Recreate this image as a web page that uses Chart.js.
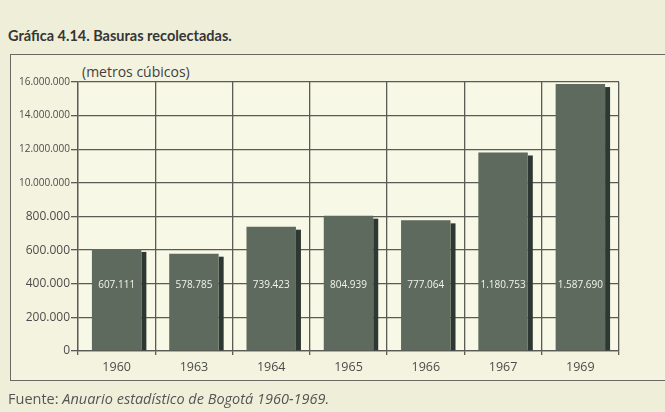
<!DOCTYPE html>
<html lang="es">
<head>
<meta charset="utf-8">
<title>Basuras recolectadas</title>
<script src="https://cdn.jsdelivr.net/npm/chart.js@4.4.1/dist/chart.umd.min.js"></script>
<style>
  html, body {
    margin: 0;
    padding: 0;
    width: 665px;
    height: 412px;
    overflow: hidden;
    background: #efefd9;
  }
  #wrap { position: relative; width: 665px; height: 412px; }
  #titulo {
    position: absolute; left: 8px; top: 27px;
    font: bold 14.5px Lato, "Open Sans", sans-serif;
    color: #363636;
    white-space: nowrap;
  }
  #marco {
    position: absolute; left: 10px; top: 54px;
    width: 680px; height: 325px;
    border: 1.5px solid #6a6a64;
    background: #f3f3e0;
  }
  #unidad {
    position: absolute; left: 82px; top: 62px;
    font: 14px "Open Sans", sans-serif;
    color: #3f3f3f;
    white-space: nowrap;
  }
  #fuente {
    position: absolute; left: 8px; top: 389px;
    font: 14.5px "Open Sans", sans-serif;
    color: #555;
    white-space: nowrap;
  }
  canvas { position: absolute; left: 0; top: 0; }
</style>
</head>
<body>
<div id="wrap">
  <div id="titulo">Gráfica 4.14. Basuras recolectadas.</div>
  <div id="marco"></div>
  <div id="unidad">(metros cúbicos)</div>
  <canvas id="basurasChart" width="665" height="412"></canvas>
  <div id="fuente">Fuente: <i>Anuario estadístico de Bogotá 1960-1969.</i></div>
</div>

<script>
// Años y metros cúbicos recolectados
const years = ["1960", "1963", "1964", "1965", "1966", "1967", "1969"];
const volumes = [607111, 578785, 739423, 804939, 777064, 1180753, 1587690];

// Rótulos del eje vertical tal como van impresos
const yTickLabels = ["0", "200.000", "400.000", "600.000", "800.000",
  "10.000.000", "12.000.000", "14.000.000", "16.000.000"];

const barColor = "#5d6a5d";
const shadowColor = "#2e3832";
const gridColor = "#5a5a56";

const chartCanvas = document.getElementById("basurasChart");

const formatMiles = (v) => String(v).replace(/\B(?=(\d{3})+(?!\d))/g, ".");

// Fondo claro del área de trazado
const plotBackground = {
  id: "plotBackground",
  beforeDraw(chart) {
    const { ctx, chartArea: a } = chart;
    ctx.save();
    ctx.fillStyle = "#f8f8e7";
    ctx.fillRect(a.left, a.top, a.right - a.left, a.bottom - a.top);
    ctx.restore();
  },
};

// Sombra oscura a la derecha de cada barra
const barShadow = {
  id: "barShadow",
  beforeDatasetsDraw(chart) {
    const { ctx } = chart;
    const meta = chart.getDatasetMeta(0);
    ctx.save();
    ctx.fillStyle = shadowColor;
    meta.data.forEach((bar) => {
      const right = bar.x + bar.width / 2;
      ctx.fillRect(right, bar.y + 3, 5, bar.base - bar.y - 3);
    });
    ctx.restore();
  },
};

// Valor de cada barra en blanco, a la altura de la línea de 400.000
const valueLabels = {
  id: "valueLabels",
  afterDatasetsDraw(chart) {
    const { ctx } = chart;
    const meta = chart.getDatasetMeta(0);
    const y = chart.scales.y.getPixelForValue(400000) + 1;
    ctx.save();
    ctx.fillStyle = "#f4f4ec";
    ctx.font = "10px 'Open Sans', sans-serif";
    ctx.textAlign = "center";
    ctx.textBaseline = "middle";
    meta.data.forEach((bar, i) => {
      ctx.fillText(formatMiles(volumes[i]), bar.x, y);
    });
    ctx.restore();
  },
};

new Chart(chartCanvas, {
  type: "bar",
  data: {
    labels: years,
    datasets: [
      {
        label: "Metros cúbicos",
        data: volumes,
        backgroundColor: barColor,
        borderWidth: 0,
        barPercentage: 0.64,
        categoryPercentage: 1,
      },
    ],
  },
  options: {
    responsive: false,
    animation: false,
    layout: { padding: { left: 0, top: 82, right: 46, bottom: 33 } },
    plugins: {
      legend: { display: false },
      tooltip: { enabled: false },
    },
    scales: {
      x: {
        afterFit: (scale) => { scale.height = 28; },
        grid: {
          offset: true,
          color: gridColor,
          lineWidth: 1.3,
          tickLength: 4,
        },
        border: { color: gridColor, width: 1.3 },
        ticks: {
          color: "#4c4c4a",
          padding: 5,
          font: { family: "'Open Sans', sans-serif", size: 12.5 },
        },
      },
      y: {
        min: 0,
        max: 1600000,
        afterFit: (scale) => { scale.width = 78; },
        grid: {
          color: gridColor,
          lineWidth: 1.3,
          tickLength: 7,
        },
        border: { color: gridColor, width: 1.3 },
        ticks: {
          stepSize: 200000,
          color: "#4c4c4a",
          padding: 1,
          callback: (value, index) => yTickLabels[index],
          font: (ctx) => ctx.index >= 5
            ? { family: "'Open Sans', sans-serif", size: 10 }
            : { family: "'Open Sans', sans-serif", size: 12 },
        },
      },
    },
  },
  plugins: [plotBackground, barShadow, valueLabels],
});
</script>
</body>
</html>
